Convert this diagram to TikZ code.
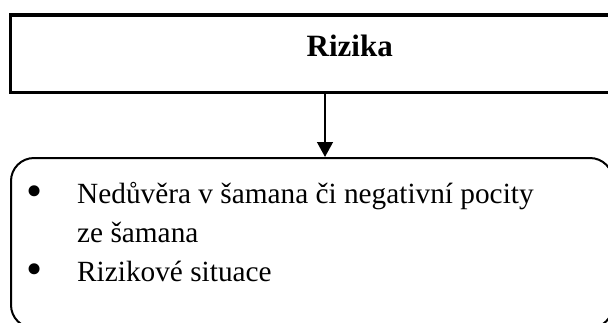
\documentclass[tikz,border=0pt]{standalone}
\usepackage{fontspec}
\setmainfont{Liberation Serif}
\usetikzlibrary{arrows.meta}
\tikzset{
  headbox/.style={draw, line width=3.5pt, minimum width=678.5pt, minimum height=77.5pt, inner sep=0pt},
  listbox/.style={draw, line width=2pt, rounded corners=23pt, minimum width=602pt, minimum height=170pt, inner sep=0pt},
  headtext/.style={anchor=base, inner sep=0pt, font=\bfseries\fontsize{31}{37}\selectfont},
  bodytext/.style={anchor=base west, inner sep=0pt, font=\fontsize{29.3}{39}\selectfont},
  bullettext/.style={anchor=base, inner sep=0pt, font=\fontsize{46}{50}\selectfont},
  conn/.style={line width=2.3pt, -{Triangle[width=15.7pt,length=15pt]}}
}
\begin{document}
\begin{tikzpicture}[x=1pt,y=-1pt]
\useasboundingbox (0,0) rectangle (608,322);
\clip (0,0) rectangle (608,322);
\node[headbox] (top) at (349.75,53.75) {};
\node[headtext] (title) at (349.7,56) {Rizika};
\node[listbox] (box) at (312,243) {};
\coordinate (ax) at (325,0);
\draw[conn] (top.south -| ax) -- (box.north -| ax);
\node[bullettext] (b1) at (35,206) {•};
\node[bodytext] (t1) at (77,203) {Nedůvěra v šamana či negativní pocity};
\node[bodytext] (t2) at (77,242) {ze šamana};
\node[bullettext] (b2) at (35,284) {•};
\node[bodytext] (t3) at (77,281) {Rizikové situace};
\end{tikzpicture}
\end{document}
